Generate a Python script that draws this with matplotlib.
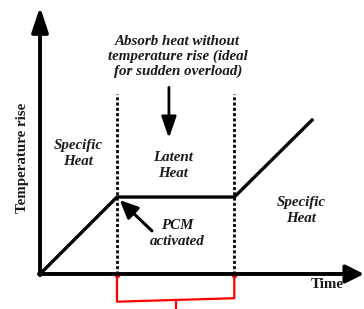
import matplotlib.pyplot as plt

# curve: time vs temperature rise (arbitrary units)
time = [0, 2, 5.05, 7.1]
temp = [0, 2, 2, 4.03]

# phase boundaries (PCM melting start / end)
phase_edges = [2, 5.05]
bracket_bottom = [-0.72, -0.63]

plt.rcParams['font.family'] = ['Liberation Serif', 'DejaVu Serif']

fig = plt.figure(figsize=(3.64, 3.09), dpi=100)
ax = fig.add_axes([0, 0, 1, 1])
ax.set_xlim(-1.04, 8.42)
ax.set_ylim(-0.91, 7.12)
ax.axis('off')

# axes with arrows
ax.annotate('', xy=(0, 6.94), xytext=(0, -0.03),
            arrowprops=dict(arrowstyle='-|>,head_length=1.5,head_width=0.5', lw=2.8, color='black', shrinkA=0, shrinkB=0))
ax.annotate('', xy=(8.42, 0), xytext=(-0.03, 0),
            arrowprops=dict(arrowstyle='-|>,head_length=1.1,head_width=0.55', lw=2.8, color='black', shrinkA=0, shrinkB=0))

ax.plot(time, temp, color='black', lw=2.4, solid_capstyle='butt')

for x in phase_edges:
    ax.plot([x, x], [0, 4.68], color='black', lw=2.0, linestyle=(0, (1.1, 0.8)))

# red bracket under latent-heat region
ax.plot([phase_edges[0], phase_edges[0], phase_edges[1], phase_edges[1]],
        [-0.02, bracket_bottom[0], bracket_bottom[1], -0.02], color='red', lw=1.6)
ax.plot(phase_edges, [-0.02, -0.02], 'o', color='red', ms=3)
mid = (phase_edges[0] + phase_edges[1]) / 2
ax.plot([mid, mid], [(bracket_bottom[0] + bracket_bottom[1]) / 2, -0.95], color='red', lw=1.6)

tstyle = dict(fontsize=10.8, fontweight='bold', style='italic', ha='center', va='center', linespacing=1.3, color='#1a1a1a')
ax.text(3.58, 5.65, 'Absorb heat without\ntemperature rise (ideal\nfor sudden overload)',
        **{**tstyle, 'linespacing': 1.15})
ax.text(0.99, 3.14, 'Specific\nHeat', **tstyle)
ax.text(3.45, 2.81, 'Latent\nHeat', **tstyle)
ax.text(3.56, 1.04, 'PCM\nactivated', **tstyle)
ax.text(6.78, 1.64, 'Specific\nHeat', **tstyle)

ax.text(7.46, -0.27, 'Time', fontsize=10.8, fontweight='bold', ha='center', va='center', color='#1a1a1a')
ax.text(-0.45, 3.02, 'Temperature rise', fontsize=10.8, fontweight='bold', ha='center', va='center', rotation=90, color='#1a1a1a')

ax.annotate('', xy=(3.35, 3.53), xytext=(3.35, 4.85),
            arrowprops=dict(arrowstyle='-|>,head_length=1.3,head_width=0.45', lw=2.0, color='black', shrinkA=0, shrinkB=0))
ax.annotate('', xy=(2.07, 1.92), xytext=(2.91, 1.12),
            arrowprops=dict(arrowstyle='-|>,head_length=1.1,head_width=0.5', lw=2.2, color='black', shrinkA=0, shrinkB=0))

fig.savefig('out.png', dpi=100)
